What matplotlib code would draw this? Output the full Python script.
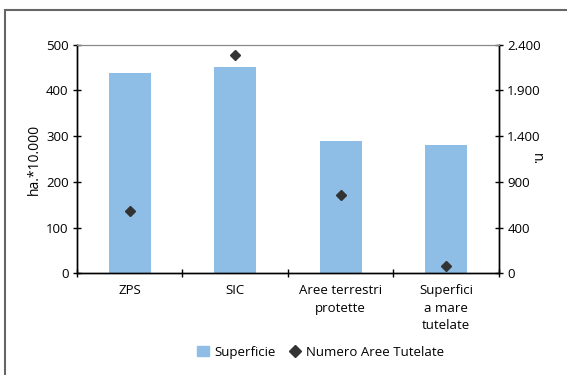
import numpy as np
import matplotlib.pyplot as plt
from matplotlib.patches import Rectangle
from matplotlib.lines import Line2D
from matplotlib.ticker import FixedLocator, FuncFormatter

plt.rcParams['font.family'] = ['Open Sans', 'DejaVu Sans']

categories = ['ZPS', 'SIC', 'Aree terrestri\nprotette', 'Superfici\na mare\ntutelate']
superficie = [438, 451, 289, 281]          # ha * 10.000
numero_aree = [580, 2285, 753, -25]         # n.
right_ticks = [-100, 400, 900, 1400, 1900, 2400]

bar_color = '#8ebee6'
mark_color = '#333333'

fig = plt.figure(figsize=(5.67, 3.75), dpi=100)
ax = fig.add_axes([0.1358, 0.2712, 0.7442, 0.6096])
ax2 = ax.twinx()

x = np.arange(len(categories))
ax.bar(x, superficie, width=0.4, color=bar_color, zorder=2)
ax2.plot(x, numero_aree, linestyle='none', marker='D', markersize=5.5,
         color=mark_color, zorder=3)

ax.set_xlim(-0.5, len(categories) - 0.5)
ax.set_ylim(0, 500)
ax.set_yticks([0, 100, 200, 300, 400, 500])
ax2.set_ylim(-100, 2400)
ax2.yaxis.set_major_locator(FixedLocator(right_ticks))

def dotted(v, pos):
    if v < 0:
        return '0'
    return '{:,.0f}'.format(v).replace(',', '.')

ax2.yaxis.set_major_formatter(FuncFormatter(dotted))

# category labels between boundary ticks
ax.set_xticks(np.arange(len(categories) + 1) - 0.5)
ax.set_xticklabels([])
ax.set_xticks(x, minor=True)
ax.set_xticklabels(categories, minor=True, fontsize=9.5, linespacing=1.45)
ax.tick_params(axis='x', which='minor', length=0, pad=8)
ax.tick_params(axis='x', which='major', direction='inout', length=6, width=1)
ax.tick_params(axis='y', direction='inout', length=6, width=1, labelsize=9.5, pad=3)
ax2.tick_params(axis='y', direction='inout', length=6, width=1, labelsize=9.5, pad=3)

for a in (ax, ax2):
    a.spines['top'].set_color('#888888')
    for s in ('left', 'right', 'bottom'):
        a.spines[s].set_color('black')
        a.spines[s].set_linewidth(1.0)

ax.set_ylabel('ha.*10.000', fontsize=10, labelpad=3)
ax2.set_ylabel('n.', fontsize=10, rotation=270, labelpad=2)

handles = [Rectangle((0, 0), 1, 1, color=bar_color),
           Line2D([], [], linestyle='none', marker='D', markersize=6, color=mark_color)]
fig.legend(handles, ['Superficie', 'Numero Aree Tutelate'], loc='center',
           bbox_to_anchor=(0.566, 0.061), ncol=2, frameon=False, fontsize=9.5,
           handlelength=0.9, handletextpad=0.4, columnspacing=1.0)

# outer frame
fig.patches.append(Rectangle((5 / 567, -0.1), 1.2, 1.1 - 10 / 375, transform=fig.transFigure,
                             fill=False, edgecolor='#666666', linewidth=1.5))

fig.savefig('out.png', dpi=100)
